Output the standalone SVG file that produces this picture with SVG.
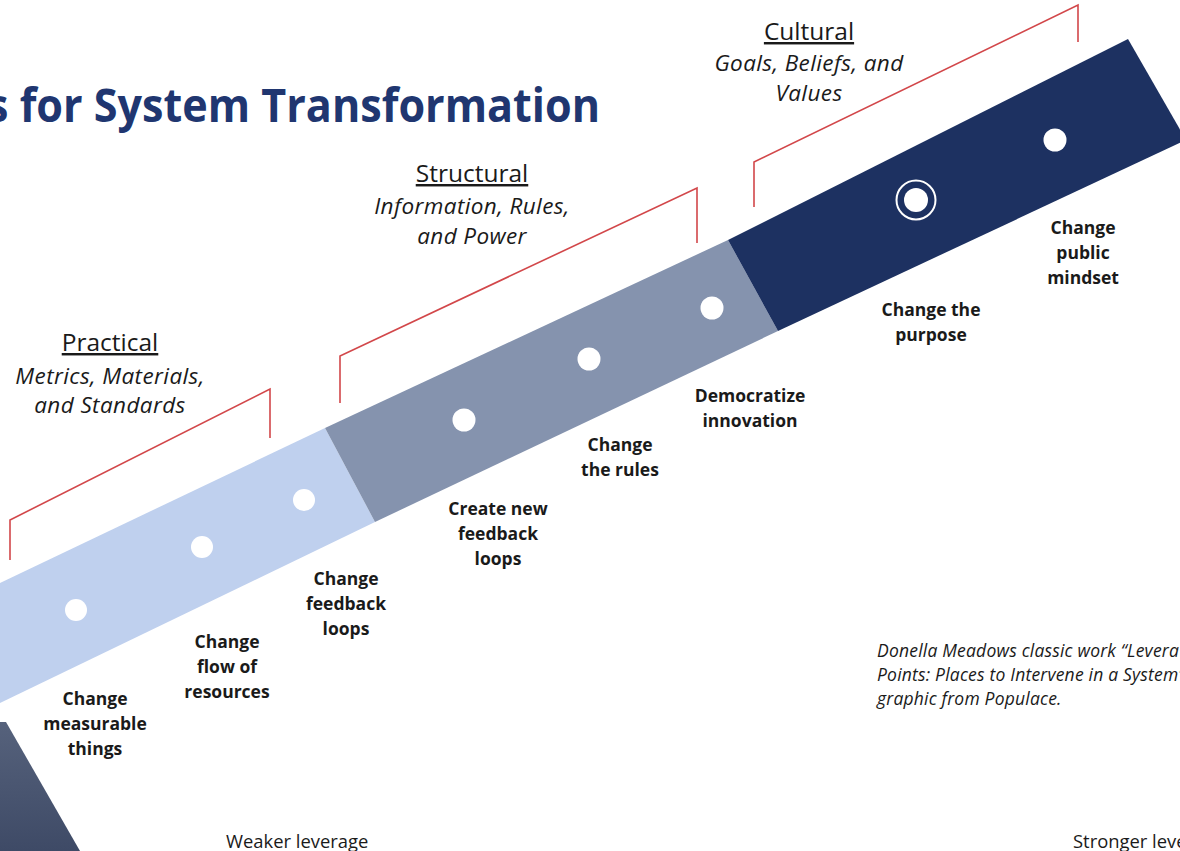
<svg xmlns="http://www.w3.org/2000/svg" width="1180" height="851" viewBox="0 0 1180 851">
<defs>
<style>
.title{font-family:"Open Sans","Liberation Sans",sans-serif;font-weight:700;font-size:46px;fill:#203670}
.head{font-family:"Open Sans","Liberation Sans",sans-serif;font-size:24.5px;fill:#1a1a1a;text-anchor:middle;text-decoration:underline}
.sub{font-family:"Open Sans","Liberation Sans",sans-serif;font-style:italic;font-size:22.5px;letter-spacing:0.4px;fill:#1a1a1a;text-anchor:middle}
.lbl{font-family:"Open Sans","Liberation Sans",sans-serif;font-weight:700;font-size:17.5px;fill:#1a1a1a;text-anchor:middle}
.cite{font-family:"Open Sans","Liberation Sans",sans-serif;font-style:italic;font-size:17.5px;letter-spacing:0.2px;fill:#1a1a1a}
.axis{font-family:"Open Sans","Liberation Sans",sans-serif;font-size:18.4px;fill:#1a1a1a}
.brk{fill:none;stroke:#d2474a;stroke-width:1.6}
.dot{fill:#ffffff}
</style>
<linearGradient id="wedge" x1="0" y1="0" x2="0" y2="1">
<stop offset="0" stop-color="#56627c"/>
<stop offset="1" stop-color="#3e4a66"/>
</linearGradient>
</defs>
<rect width="1180" height="851" fill="#ffffff"/>
<text class="title" x="-13" y="122" textLength="613" lengthAdjust="spacingAndGlyphs">s for System Transformation</text>

<g id="base-wedge"><polygon points="0,722 6,722 80,851 0,851" fill="url(#wedge)"/></g>

<g id="practical-band">
<polygon points="0,583 325,428 375,522 0,703" fill="#bfd0ee"/>
<circle class="dot" cx="76" cy="610" r="11"/>
<circle class="dot" cx="202" cy="547" r="11"/>
<circle class="dot" cx="304" cy="500" r="11"/>
</g>
<g id="structural-band">
<polygon points="325,428 728,240 778,331 375,522" fill="#8593ae"/>
<circle class="dot" cx="464" cy="420" r="11.5"/>
<circle class="dot" cx="589" cy="359" r="11.5"/>
<circle class="dot" cx="712" cy="308" r="11.5"/>
</g>
<g id="cultural-band">
<polygon points="728,240 1128,39 1186,140 778,331" fill="#1d3161"/>
<circle cx="916" cy="200" r="19.5" fill="none" stroke="#ffffff" stroke-width="2"/>
<circle class="dot" cx="916" cy="200" r="12"/>
<circle class="dot" cx="1055" cy="140" r="11.5"/>
</g>

<g id="brackets">
<polyline class="brk" points="10,560 10,520 270,389 270,438"/>
<polyline class="brk" points="340,403 340,356 697,188 697,243"/>
<polyline class="brk" points="754,207 754,162 1078,5 1078,42"/>
</g>

<g id="practical-heading">
<text class="head" x="110" y="351">Practical</text>
<text class="sub" x="110" y="384">Metrics, Materials,</text>
<text class="sub" x="110" y="413">and Standards</text>
</g>
<g id="structural-heading">
<text class="head" x="472" y="182">Structural</text>
<text class="sub" x="472" y="214">Information, Rules,</text>
<text class="sub" x="472" y="244">and Power</text>
</g>
<g id="cultural-heading">
<text class="head" x="809" y="40">Cultural</text>
<text class="sub" x="809" y="71">Goals, Beliefs, and</text>
<text class="sub" x="809" y="101">Values</text>
</g>

<g id="lbl-measurable"><text class="lbl" x="95" y="705">Change</text><text class="lbl" x="95" y="730">measurable</text><text class="lbl" x="95" y="755">things</text></g>
<g id="lbl-flow"><text class="lbl" x="227" y="648">Change</text><text class="lbl" x="227" y="673">flow of</text><text class="lbl" x="227" y="698">resources</text></g>
<g id="lbl-feedback"><text class="lbl" x="346" y="585">Change</text><text class="lbl" x="346" y="610">feedback</text><text class="lbl" x="346" y="635">loops</text></g>
<g id="lbl-newfeedback"><text class="lbl" x="498" y="515">Create new</text><text class="lbl" x="498" y="540">feedback</text><text class="lbl" x="498" y="565">loops</text></g>
<g id="lbl-rules"><text class="lbl" x="620" y="451">Change</text><text class="lbl" x="620" y="476">the rules</text></g>
<g id="lbl-democratize"><text class="lbl" x="750" y="402">Democratize</text><text class="lbl" x="750" y="427">innovation</text></g>
<g id="lbl-purpose"><text class="lbl" x="931" y="316">Change the</text><text class="lbl" x="931" y="341">purpose</text></g>
<g id="lbl-mindset"><text class="lbl" x="1083" y="234">Change</text><text class="lbl" x="1083" y="259">public</text><text class="lbl" x="1083" y="284">mindset</text></g>

<g id="citation">
<text class="cite" x="877" y="657">Donella Meadows classic work “Levera</text>
<text class="cite" x="877" y="681">Points: Places to Intervene in a System’</text>
<text class="cite" x="877" y="705">graphic from Populace.</text>
</g>
<text class="axis" x="226" y="848">Weaker leverage</text>
<text class="axis" x="1073" y="848">Stronger leve</text>
</svg>
